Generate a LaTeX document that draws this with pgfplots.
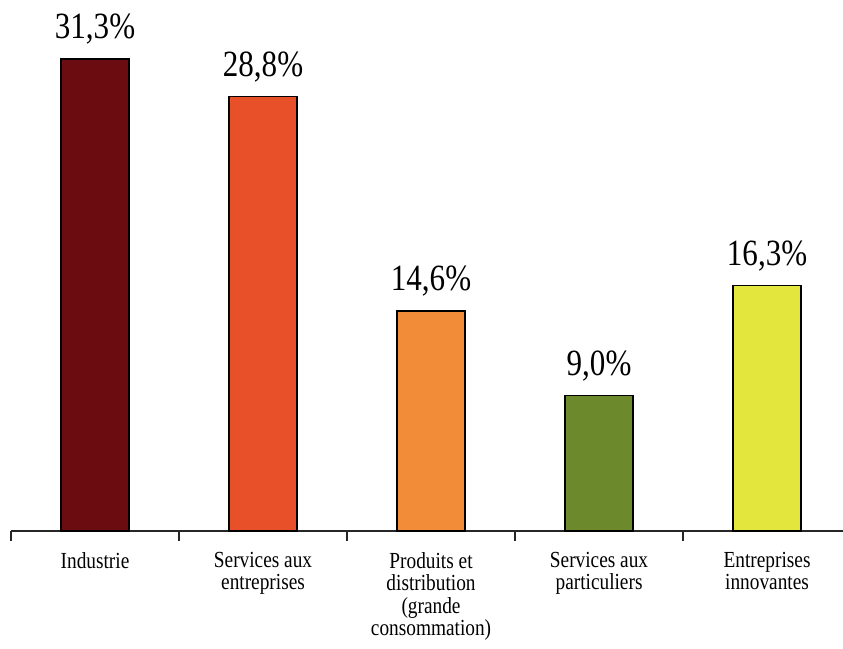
\documentclass[border=0pt]{standalone}
\usepackage{pgfplots}
\pgfplotsset{compat=1.18}
\usepackage{fontspec}
\setmainfont{Liberation Serif}[FakeStretch=0.84]
\definecolor{cInd}{HTML}{6A0C10}
\definecolor{cSE}{HTML}{E8502A}
\definecolor{cPD}{HTML}{F28C38}
\definecolor{cSP}{HTML}{6C8A2C}
\definecolor{cEI}{HTML}{E3E63C}
\begin{document}
\begin{tikzpicture}
\useasboundingbox[fill=white] (0,0) rectangle (421.5pt,324.5pt);
\begin{axis}[
  at={(5.5pt,59pt)}, anchor=south west,
  scale only axis,
  width=416pt, height=248.8pt,
  xmin=-0.5, xmax=4.452,
  ymin=0, ymax=33,
  axis x line=bottom, axis y line=none,
  axis line style={-, line width=0.8pt, black!85},
  xtick={0,1,2,3,4},
  xticklabels={Industrie,{Services aux\\entreprises},{Produits et\\distribution\\(grande\\consommation)},{Services aux\\particuliers},{Entreprises\\innovantes}},
  xticklabel style={align=center, font=\fontsize{11.5}{11.3}\selectfont, yshift=-7pt},
  major tick length=0pt,
  minor xtick={-0.5,0.5,1.5,2.5,3.5},
  minor tick length=5pt,
  tick align=outside,
  minor tick style={line width=0.8pt, black!85},
  clip=false,
  ybar, bar width=34pt,
  bar shift=0pt,
  nodes near coords,
  nodes near coords style={font=\fontsize{18.5}{20}\selectfont, yshift=3.5pt},
  point meta=explicit symbolic,
]
\addplot[fill=cInd, draw=black, line width=0.7pt] coordinates {(0,31.3) [31,3\%]};
\addplot[fill=cSE, draw=black, line width=0.7pt] coordinates {(1,28.8) [28,8\%]};
\addplot[fill=cPD, draw=black, line width=0.7pt] coordinates {(2,14.6) [14,6\%]};
\addplot[fill=cSP, draw=black, line width=0.7pt] coordinates {(3,9.0) [9,0\%]};
\addplot[fill=cEI, draw=black, line width=0.7pt] coordinates {(4,16.3) [16,3\%]};
\end{axis}
\end{tikzpicture}
\end{document}
